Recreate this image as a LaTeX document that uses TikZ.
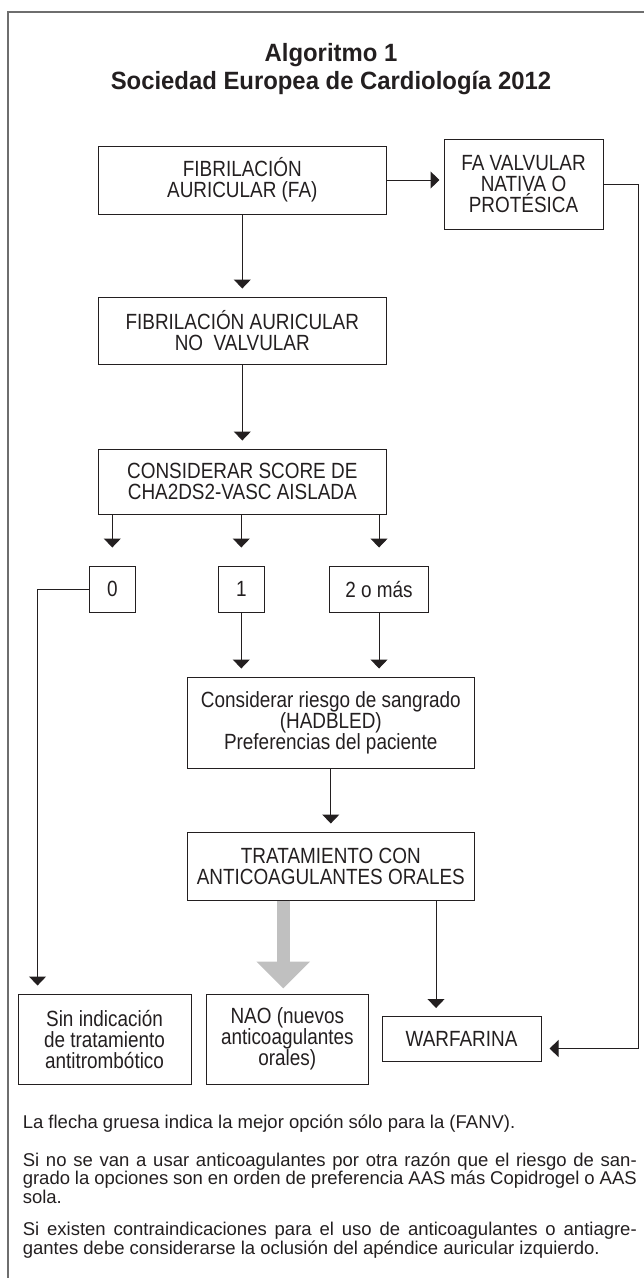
\documentclass[tikz,border=0pt]{standalone}
\usepackage{fontspec}
\setmainfont{Liberation Sans}
\newfontfamily\cajafont[FakeStretch=0.86]{Liberation Sans}
\newfontfamily\titulofont[FakeStretch=0.955]{Liberation Sans}
\usepackage{xcolor}
\usetikzlibrary{arrows.meta, positioning}
\definecolor{ink}{RGB}{35, 31, 32}
\definecolor{framegray}{RGB}{110, 110, 110}
\definecolor{bestgray}{RGB}{192, 192, 192}
\setlength{\parindent}{0pt}
\hyphenpenalty=10000
\tikzset{
    stepbox/.style={rectangle, draw=ink, line width=1pt, align=center, inner sep=2pt, text=ink, font=\cajafont\fontsize{22pt}{21pt}\selectfont},
    line/.style={draw=ink, line width=1pt, -{Triangle[length=9pt, width=17pt]}, shorten >=8pt},
    bestline/.style={draw=bestgray, line width=13.5pt, -{Triangle[length=27pt, width=52pt]}, shorten >=5pt},
    outerframe/.style={draw=framegray, line width=1.4pt},
    heading/.style={align=center, text=ink, font=\titulofont\fontsize{25pt}{28pt}\selectfont\bfseries},
    note/.style={text width=614pt, align=justify, inner sep=0pt, text=ink, font=\fontsize{18.5pt}{16.6pt}\selectfont}
}

\begin{document}
\begin{tikzpicture}[x=1pt, y=1pt, node distance=50pt and 50pt]
        \useasboundingbox (0,0) rectangle (644,-1278);
        \draw [outerframe] (644,-12) -- (8,-12) -- (8,-1278);

        \node [heading] (titulo) at (331,-69) {Algoritmo 1\\Sociedad Europea de Cardiología 2012};

        \node [stepbox, minimum width=287.4pt, minimum height=68pt] (fa) at (242.3,-180) {FIBRILACIÓN\\AURICULAR (FA)};
        
        \node [stepbox, minimum width=159pt, minimum height=90pt, right=57pt of fa, yshift=-4pt] (valvular) {FA VALVULAR\\NATIVA O\\PROTÉSICA};
        
        \node [stepbox, minimum width=287.4pt, minimum height=67pt, below=82pt of fa] (fanv) {FIBRILACIÓN AURICULAR\\NO\ \ VALVULAR};
        
        \node [stepbox, minimum width=287.4pt, minimum height=65pt, below=84pt of fanv] (score) {CONSIDERAR SCORE DE\\CHA2DS2-VASC AISLADA};
        
        \node [stepbox, minimum width=46pt, minimum height=46pt, below=51pt of score, xshift=-1pt] (uno) {1};
        \node [stepbox, minimum width=46pt, minimum height=46pt, left=82pt of uno] (cero) {0};
        \node [stepbox, minimum width=98.5pt, minimum height=46pt, right=64.5pt of uno] (dos) {2 o más};
        
        \node [stepbox, minimum width=287pt, minimum height=91pt, below=64pt of uno, xshift=89.5pt] (riesgo) {Considerar riesgo de sangrado\\(HADBLED)\\Preferencias del paciente};
        
        \node [stepbox, minimum width=287pt, minimum height=68pt, below=63pt of riesgo] (tto) {TRATAMIENTO CON\\ANTICOAGULANTES ORALES};
        
        \node [stepbox, minimum width=161.5pt, minimum height=90pt, below=93pt of tto, xshift=-43.5pt] (nao) {NAO (nuevos\\anticoagulantes\\orales)};
        \node [stepbox, minimum width=173pt, minimum height=90pt, left=14.5pt of nao] (sin) {Sin indicación\\de tratamiento\\antitrombótico};
        \node [stepbox, minimum width=159pt, minimum height=45pt, right=13pt of nao] (warfarina) {WARFARINA};

        \coordinate (margen) at ([xshift=34.5pt]valvular.east);
        \coordinate (wright) at ([yshift=-9.5pt]warfarina.east);
        \coordinate (wtop) at ([xshift=-25.5pt]warfarina.north);

        % Draws
        \draw [line, shorten >=4pt] (fa.east) -- (fa.east -| valvular.west);
        \draw [line] (fa) -- (fanv);
        \draw [line] (fanv) -- (score);
        \draw [line, shorten >=18pt] (score.south -| cero) -- (cero);
        \draw [line, shorten >=18pt] (score.south -| uno) -- (uno);
        \draw [line, shorten >=18pt] (score.south -| dos) -- (dos);
        \draw [line] (uno) -- (uno |- riesgo.north);
        \draw [line] (dos) -- (dos |- riesgo.north);
        \draw [line] (riesgo) -- (tto);
        \draw [line] (cero.west) -| ([xshift=20pt]sin.north west);
        \draw [bestline] ([xshift=-4pt]tto.south -| nao.north) -- ([xshift=-4pt]nao.north);
        \draw [line] (tto.south -| wtop) -- (wtop);
        \draw [line] (valvular.east) -- (margen) |- (wright);

        \node [note, anchor=north west] (notas) at (22.6,-1115) {La flecha gruesa indica la mejor opción sólo para la (FANV).\par\vspace{19pt}
        Si no se van a usar anticoagulantes por otra razón que el riesgo de san-\linebreak grado la opciones son en orden de preferencia AAS más Copidrogel o AAS sola.\par\vspace{16pt}
        Si existen contraindicaciones para el uso de anticoagulantes o antiagre-\linebreak gantes debe considerarse la oclusión del apéndice auricular izquierdo.};
        
    \end{tikzpicture}
\end{document}
